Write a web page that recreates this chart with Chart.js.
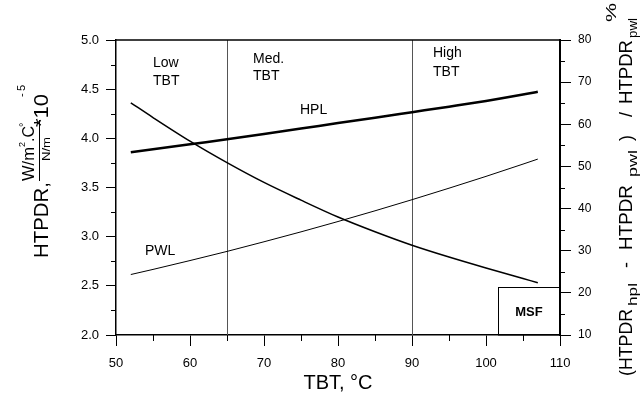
<!DOCTYPE html>
<html>
<head>
<meta charset="utf-8">
<script src="https://cdn.jsdelivr.net/npm/chart.js@4"></script>
<style>
    html, body { margin: 0; padding: 0; background: #fff; }
    #wrap { width: 640px; height: 394px; }
</style>
</head>
<body>
<div id="wrap"><canvas id="htpdrChart" width="640" height="394"></canvas></div>
<script>
// ========== DATA ==========
const tbt = [52, 55, 60, 65, 70, 75, 80, 85, 90, 95, 100, 105, 107];
const hplHtpdr = [3.858, 3.888, 3.94, 3.99, 4.045, 4.10, 4.155, 4.21, 4.266, 4.322, 4.38, 4.445, 4.474];
const pwlHtpdr = [2.615, 2.667, 2.757, 2.85, 2.948, 3.049, 3.154, 3.263, 3.376, 3.493, 3.613, 3.738, 3.789];
const diffPercent = [65.1, 61.6, 56.0, 50.9, 46.2, 42.0, 38.0, 34.5, 31.3, 28.5, 25.9, 23.4, 22.4];

// zone boundaries (TBT, °C) and zone names
const zoneBounds = [65, 90];
const zoneNames = [['Low', 'TBT'], ['Med.', 'TBT'], ['High', 'TBT']];

// axis ranges
const xRange = [50, 110];
const yLeftRange = [2.0, 5.0];
const yRightRange = [10, 80];

const FONT = '"Liberation Sans", Arial, Helvetica, sans-serif';

function toPoints(xs, ys) {
    return xs.map((x, i) => ({ x: x, y: ys[i] }));
}

// ========== HELPERS ==========
// rotated text (-90deg), reads bottom to top starting at startY
function vText(ctx, text, size, baseX, startY, len) {
    ctx.save();
    ctx.font = size + 'px ' + FONT;
    const w = ctx.measureText(text).width;
    ctx.translate(baseX, startY);
    ctx.rotate(-Math.PI / 2);
    if (len) ctx.scale(len / w, 1);
    ctx.textAlign = 'left';
    ctx.textBaseline = 'alphabetic';
    ctx.fillText(text, 0, 0);
    ctx.restore();
    return len || w;
}

function hText(ctx, text, size, x, y, align, bold) {
    ctx.save();
    ctx.font = (bold ? 'bold ' : '') + size + 'px ' + FONT;
    ctx.textAlign = align || 'left';
    ctx.textBaseline = 'alphabetic';
    ctx.fillText(text, x, y);
    ctx.restore();
}

// ========== DECORATIONS PLUGIN ==========
const decorPlugin = {
    id: 'decor',
    beforeDatasetsDraw(chart) {
        const ctx = chart.ctx;
        const area = chart.chartArea;
        const xs = chart.scales.x;
        ctx.save();
        ctx.strokeStyle = '#555';
        ctx.lineWidth = 1;
        zoneBounds.forEach(v => {
            const px = Math.round(xs.getPixelForValue(v)) + 0.5;
            ctx.beginPath();
            ctx.moveTo(px, area.top);
            ctx.lineTo(px, area.bottom);
            ctx.stroke();
        });
        ctx.restore();
    },
    afterDraw(chart) {
        const ctx = chart.ctx;
        const area = chart.chartArea;
        const xs = chart.scales.x;
        const yl = chart.scales.y;
        const yr = chart.scales.y1;
        ctx.save();
        ctx.strokeStyle = '#000';
        ctx.fillStyle = '#000';

        // top frame
        ctx.lineWidth = 1.5;
        ctx.beginPath();
        ctx.moveTo(area.left, area.top);
        ctx.lineTo(area.right, area.top);
        ctx.stroke();

        // minor ticks
        ctx.lineWidth = 1;
        ctx.beginPath();
        for (let v = xRange[0] + 5; v < xRange[1]; v += 10) {
            const px = Math.round(xs.getPixelForValue(v)) + 0.5;
            ctx.moveTo(px, area.bottom);
            ctx.lineTo(px, area.bottom + 6);
        }
        for (let v = yLeftRange[0] + 0.25; v < yLeftRange[1]; v += 0.5) {
            const py = Math.round(yl.getPixelForValue(v)) + 0.5;
            ctx.moveTo(area.left, py);
            ctx.lineTo(area.left - 5, py);
        }
        for (let v = yRightRange[0] + 5; v < yRightRange[1]; v += 10) {
            const py = Math.round(yr.getPixelForValue(v)) + 0.5;
            ctx.moveTo(area.right, py);
            ctx.lineTo(area.right + 5, py);
        }
        ctx.stroke();

        // zone labels
        const zoneLeft = [153, 253, 433];
        const zoneBase = [[67, 85], [63, 80], [57, 76]];
        zoneNames.forEach((lines, i) => {
            lines.forEach((t, j) => hText(ctx, t, 14, zoneLeft[i], zoneBase[i][j], 'left'));
        });

        // series labels
        hText(ctx, 'HPL', 14, 300, 114, 'left');
        hText(ctx, 'PWL', 14, 145, 255, 'left');

        // MSF box
        ctx.lineWidth = 1;
        ctx.strokeRect(498.5, 287.5, area.right - 498.5, area.bottom - 287.5);
        hText(ctx, 'MSF', 13, 529, 316, 'center', true);

        // x axis title
        hText(ctx, 'TBT, \u00B0C', 20, 338, 389, 'center');

        // left axis title
        vText(ctx, 'HTPDR,', 20, 48, 258, 76);
        let y = 181;
        y -= vText(ctx, 'W/m', 16, 34, y, 34);
        y -= vText(ctx, '2', 9, 25, y);
        y -= vText(ctx, '.C', 16, 34, y);
        vText(ctx, '\u00B0', 11, 27, y + 1);
        ctx.lineWidth = 1;
        ctx.beginPath();
        ctx.moveTo(39.5, 181);
        ctx.lineTo(39.5, 120);
        ctx.stroke();
        vText(ctx, 'N/m', 11, 50, 161, 24);
        vText(ctx, '*10', 20, 48, 127, 33);
        vText(ctx, '-', 11, 25, 97);
        vText(ctx, '5', 11, 25, 91);

        // right axis title
        vText(ctx, '(HTPDR', 18, 632, 376, 67);
        vText(ctx, 'hpl', 12, 637, 306, 23);
        vText(ctx, '-', 18, 632, 268);
        vText(ctx, 'HTPDR', 18, 632, 250, 65);
        vText(ctx, 'pwl', 12, 637, 177, 27);
        vText(ctx, ')', 18, 632, 141);
        vText(ctx, '/', 18, 632, 117);
        vText(ctx, 'HTPDR', 18, 632, 104, 64);
        vText(ctx, 'pwl', 12, 637, 38, 20);
        vText(ctx, '%', 15, 616, 22, 19);

        ctx.restore();
    }
};

// ========== CHART ==========
const ctx = document.getElementById('htpdrChart').getContext('2d');
const chart = new Chart(ctx, {
    type: 'line',
    data: {
        datasets: [
            {
                label: 'HPL',
                data: toPoints(tbt, hplHtpdr),
                borderColor: '#000',
                borderWidth: 2.5,
                pointRadius: 0,
                cubicInterpolationMode: 'monotone',
                yAxisID: 'y'
            },
            {
                label: 'PWL',
                data: toPoints(tbt, pwlHtpdr),
                borderColor: '#000',
                borderWidth: 1,
                pointRadius: 0,
                cubicInterpolationMode: 'monotone',
                yAxisID: 'y'
            },
            {
                label: 'Difference %',
                data: toPoints(tbt, diffPercent),
                borderColor: '#000',
                borderWidth: 1.5,
                pointRadius: 0,
                cubicInterpolationMode: 'monotone',
                yAxisID: 'y1'
            }
        ]
    },
    options: {
        responsive: false,
        animation: false,
        devicePixelRatio: 1,
        layout: { padding: { top: 40, left: 0, right: 0, bottom: 0 } },
        plugins: {
            legend: { display: false },
            tooltip: { enabled: false }
        },
        scales: {
            x: {
                type: 'linear',
                min: xRange[0],
                max: xRange[1],
                afterFit: s => { s.height = 59; },
                grid: { display: true, drawOnChartArea: false, drawTicks: true, tickLength: 11, color: '#000', tickColor: '#000' },
                border: { display: true, color: '#000', width: 1.5 },
                ticks: { stepSize: 10, padding: 10, color: '#000', font: { family: FONT, size: 13 }, maxRotation: 0 }
            },
            y: {
                type: 'linear',
                position: 'left',
                min: yLeftRange[0],
                max: yLeftRange[1],
                afterFit: s => { s.width = 116; },
                grid: { display: true, drawOnChartArea: false, drawTicks: true, tickLength: 10, color: '#000', tickColor: '#000' },
                border: { display: true, color: '#000', width: 1.5 },
                ticks: { stepSize: 0.5, padding: 7, color: '#000', font: { family: FONT, size: 13 }, callback: v => v.toFixed(1) }
            },
            y1: {
                type: 'linear',
                position: 'right',
                min: yRightRange[0],
                max: yRightRange[1],
                afterFit: s => { s.width = 80; },
                grid: { display: true, drawOnChartArea: false, drawTicks: true, tickLength: 11, color: '#000', tickColor: '#000' },
                border: { display: true, color: '#000', width: 2 },
                ticks: { stepSize: 10, padding: 7, color: '#000', font: { family: FONT, size: 12 } }
            }
        }
    },
    plugins: [decorPlugin]
});
</script>
</body>
</html>
